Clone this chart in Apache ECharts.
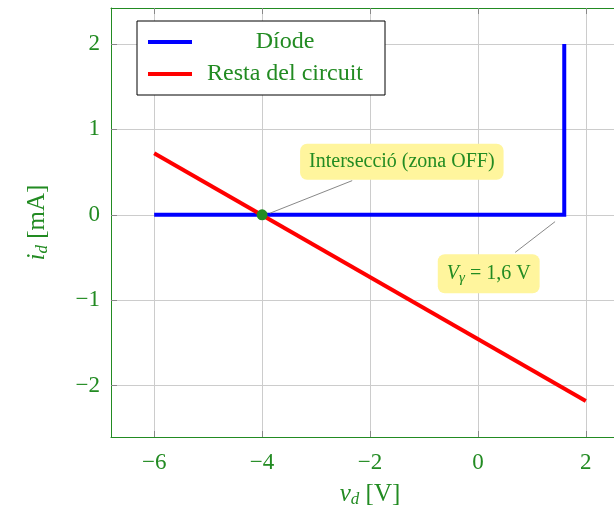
<!DOCTYPE html>
<html>
<head>
<meta charset="utf-8">
<script src="https://cdn.jsdelivr.net/npm/echarts@6/dist/echarts.min.js"></script>
<style>html,body{margin:0;padding:0;background:#fff}#c{width:614px;height:511px}</style>
</head>
<body>
<div id="c"></div>
<script>
// ---- data ----
const diodeV = [-6, 1.6, 1.6];
const diodeI = [0, 0, 2];
const restV = [-6, 2];
const restI = [0.72, -2.18];
const qPoint = [-4, 0];
const xTicks = [-6, -4, -2, 0, 2];
const yTicks = [-2, -1, 0, 1, 2];
const seriesNames = ['Díode', 'Resta del circuit'];
const note1 = 'Intersecció (zona OFF)';
const note1Pos = [-1.41, 0.62];
const note1Pin = [[-3.85, 0.02], [-2.33, 0.40]];
const note2Pos = [0.2, -0.69];
const note2Pin = [[0.69, -0.44], [1.43, -0.08]];

const GREEN = '#228B22';
const FONT = 'Liberation Serif';
const fmt = v => String(v).replace('-', '\u2212');

const chart = echarts.init(document.getElementById('c'), null, {renderer: 'canvas'});
const tickStyle = {show: true, inside: true, length: 6, lineStyle: {color: '#888', width: 1}};
const option = {
  animation: false,
  backgroundColor: '#fff',
  textStyle: {fontFamily: FONT},
  grid: {left: 111, top: 8, width: 518, height: 429, containLabel: false, outerBoundsMode: 'none'},
  legend: {
    orient: 'vertical', left: 137, top: 21,
    data: seriesNames,
    icon: 'rect', itemWidth: 44, itemHeight: 4, itemGap: 8,
    padding: [9, 12, 9, 11],
    borderColor: '#000', borderWidth: 1, backgroundColor: '#fff',
    formatter: n => '{c|' + n + '}',
    textStyle: {color: GREEN, fontFamily: FONT, fontSize: 24,
      rich: {c: {width: 176, align: 'center', fontSize: 24, lineHeight: 26, color: GREEN, fontFamily: FONT}}}
  },
  xAxis: [{
    type: 'value', min: -6.8, max: 2.8, position: 'bottom',
    name: '{i|v}{s|d} [V]', nameLocation: 'middle', nameGap: 44,
    nameTextStyle: {color: GREEN, fontSize: 25, fontFamily: FONT,
      rich: {i: {fontStyle: 'italic', fontSize: 25, color: GREEN, fontFamily: FONT},
             s: {fontStyle: 'italic', fontSize: 17, color: GREEN, fontFamily: FONT, padding: [10, 0, 0, 0]}}},
    axisLine: {show: true, onZero: false, lineStyle: {color: GREEN, width: 1}},
    axisTick: Object.assign({customValues: xTicks}, tickStyle),
    axisLabel: {customValues: xTicks, formatter: fmt, color: GREEN, fontSize: 23, fontFamily: FONT, margin: 14},
    splitLine: {show: true, lineStyle: {color: '#cccccc', width: 1}}
  }, {
    type: 'value', min: -6.8, max: 2.8, position: 'top',
    axisLine: {show: true, onZero: false, lineStyle: {color: GREEN, width: 1}},
    axisTick: Object.assign({customValues: xTicks}, tickStyle),
    axisLabel: {show: false},
    splitLine: {show: false}
  }],
  yAxis: {
    type: 'value', min: -2.6, max: 2.42,
    name: '{i|i}{s|d} [mA]', nameLocation: 'middle', nameGap: 60, nameRotate: 90,
    nameTextStyle: {color: GREEN, fontSize: 25, fontFamily: FONT,
      rich: {i: {fontStyle: 'italic', fontSize: 25, color: GREEN, fontFamily: FONT},
             s: {fontStyle: 'italic', fontSize: 17, color: GREEN, fontFamily: FONT, padding: [10, 0, 0, 0]}}},
    axisLine: {show: true, onZero: false, lineStyle: {color: GREEN, width: 1}},
    axisTick: Object.assign({customValues: yTicks}, tickStyle),
    axisLabel: {customValues: yTicks, formatter: fmt, color: GREEN, fontSize: 23, fontFamily: FONT, margin: 11},
    splitLine: {show: true, lineStyle: {color: '#cccccc', width: 1}}
  },
  series: [{
    name: seriesNames[0], type: 'line', data: diodeV.map((v, i) => [v, diodeI[i]]),
    showSymbol: false, symbol: 'none', lineStyle: {color: '#0000ff', width: 4, join: 'miter'}, itemStyle: {color: '#0000ff'}, z: 2
  }, {
    name: seriesNames[1], type: 'line', data: restV.map((v, i) => [v, restI[i]]),
    showSymbol: false, symbol: 'none', lineStyle: {color: '#ff0000', width: 4}, itemStyle: {color: '#ff0000'}, z: 3,
    markLine: {
      silent: true, symbol: ['none', 'none'], label: {show: false},
      lineStyle: {color: '#888', width: 1, type: 'solid'},
      data: [[{coord: note1Pin[0]}, {coord: note1Pin[1]}], [{coord: note2Pin[0]}, {coord: note2Pin[1]}]]
    },
    markPoint: {
      silent: true, symbol: 'rect', symbolSize: 0,
      data: [{
        coord: note1Pos,
        label: {show: true, position: 'inside', formatter: note1, color: GREEN, fontFamily: FONT, fontSize: 20,
          backgroundColor: '#fff59d', borderRadius: 7, padding: [8, 9, 8, 9]}
      }, {
        coord: note2Pos,
        label: {show: true, position: 'inside', formatter: '{i|V}{s|γ} = 1,6 V', color: GREEN, fontFamily: FONT, fontSize: 20,
          backgroundColor: '#fff59d', borderRadius: 7, padding: [8, 9, 8, 9],
          rich: {i: {fontStyle: 'italic', fontSize: 20, color: GREEN, fontFamily: FONT},
                 s: {fontStyle: 'italic', fontSize: 15, color: GREEN, fontFamily: FONT, padding: [8, 0, 0, 0]}}}
      }]
    }
  }, {
    name: 'Q', type: 'scatter', data: [qPoint], symbolSize: 11,
    itemStyle: {color: GREEN, opacity: 1}, z: 5
  }]
};
chart.setOption(option);
</script>
</body>
</html>
